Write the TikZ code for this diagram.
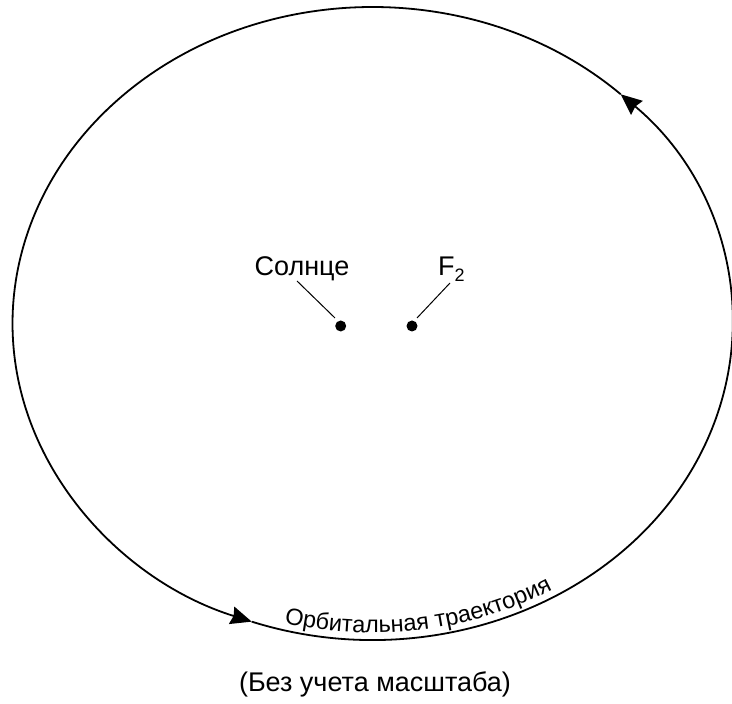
\documentclass[tikz,border=0pt]{standalone}
\usepackage{fontspec}
\setmainfont{Liberation Sans}
\usetikzlibrary{arrows.meta,decorations.text,calc}
\begin{document}
\begin{tikzpicture}[x=1pt,y=1pt,
  orbit/.style={line width=1.8pt},
  tipend/.style={-{Stealth[length=21pt,width=18pt,inset=2pt]}},
  leader/.style={line width=1pt},
  focus/.style={circle,fill=black,inner sep=0pt,minimum size=11pt},
  lbl/.style={font=\fontsize{27}{30}\selectfont,inner sep=0pt}]
\useasboundingbox (0,0) rectangle (732,704);
\coordinate (O) at (372.5,380.5);
% orbit
\draw[orbit,tipend] ($(O)+(250.4:360 and 316.5)$) arc[start angle=250.4, end angle=406.4, x radius=360, y radius=316.5];
\draw[orbit,tipend] ($(O)+(46.4:360 and 316.5)$) arc[start angle=46.4, end angle=250.4, x radius=360, y radius=316.5];
% orbit label
\path[decorate, decoration={text along path, text align={left indent=0pt},
  text={|\fontsize{23.5}{25}\selectfont|Орбитальная траектория}}]
  ($(O)+(255.5:353 and 309.5)$) arc[start angle=255.5, end angle=312, x radius=353, y radius=309.5];
% foci
\node[focus] (sun) at (340.7,378) {};
\node[focus] (f2) at (412,378) {};
\node[lbl,anchor=base] (sunlbl) at (302,428) {Солнце};
\node[lbl,anchor=base west] (f2lbl) at (438,428) {F\raisebox{-6pt}{\fontsize{18}{20}\selectfont 2}};
\coordinate (sunA) at (297,423);
\coordinate (sunB) at (335,386);
\coordinate (f2A) at (450,421);
\coordinate (f2B) at (417,386);
\draw[leader] (sunA) -- (sunB);
\draw[leader] (f2A) -- (f2B);
% note
\node[lbl,anchor=base] (note) at (375,12) {(Без учета масштаба)};
\end{tikzpicture}
\end{document}
